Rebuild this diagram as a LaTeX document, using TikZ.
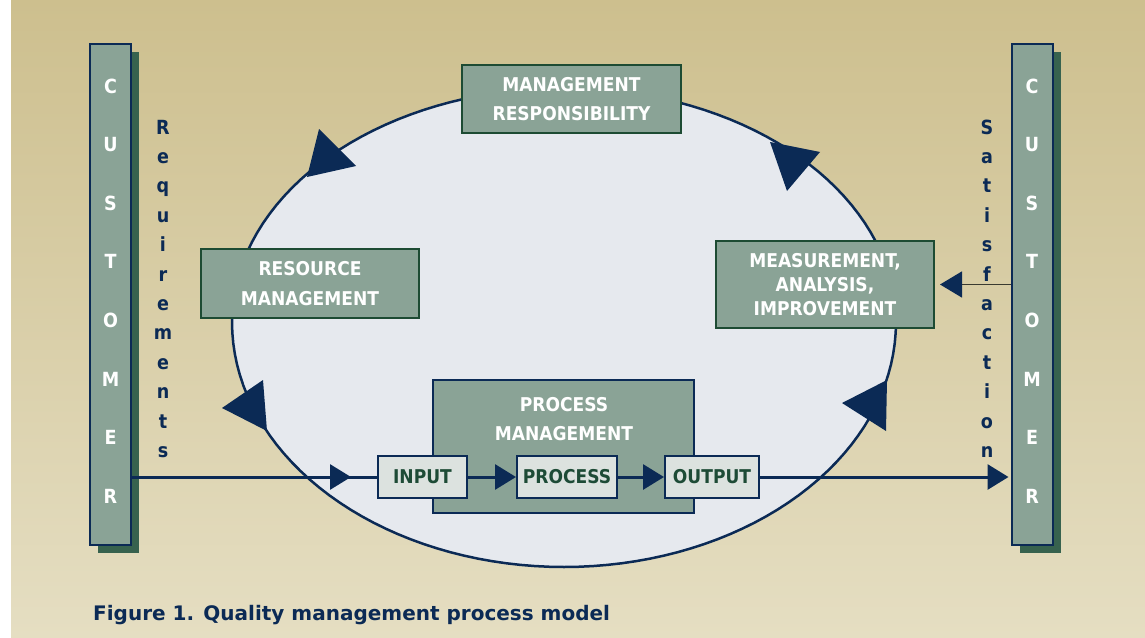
\documentclass[tikz,border=0pt]{standalone}
\usepackage{fontspec}
\setmainfont{DejaVu Sans Condensed}
\newfontfamily\captionface{DejaVu Sans}
\usetikzlibrary{arrows.meta,shadows}

\definecolor{bgtop}{HTML}{CDBF8E}
\definecolor{bgbot}{HTML}{E5DEC2}
\definecolor{navy}{HTML}{0B2A55}
\definecolor{sage}{HTML}{8AA396}
\definecolor{pine}{HTML}{37624E}
\definecolor{boxedge}{HTML}{1D4B33}
\definecolor{oval}{HTML}{E6E9EE}
\definecolor{pale}{HTML}{DCE2DF}
\definecolor{textgreen}{HTML}{1D4B36}
\definecolor{thinline}{HTML}{3A3A30}

\begin{document}
\begin{tikzpicture}[x=1pt,y=-1pt,
  custbar/.style={draw=navy, line width=2pt, fill=sage, minimum width=41pt,
    minimum height=501pt, inner sep=0pt,
    copy shadow={shadow xshift=8pt, shadow yshift=-8pt, fill=pine, draw=none}},
  custletter/.style={anchor=base, text=white, inner sep=0pt,
    font=\bfseries\fontsize{19.5}{24}\selectfont},
  sideletter/.style={anchor=base, text=navy, inner sep=0pt,
    font=\bfseries\fontsize{19.5}{24}\selectfont},
  mgmtbox/.style={draw=boxedge, line width=2pt, fill=sage, text=white,
    align=center, inner sep=0pt, font=\bfseries\fontsize{19}{29.5}\selectfont},
  stagebox/.style={draw=navy, line width=2pt, fill=pale, text=textgreen,
    minimum height=42pt, inner sep=0pt, font=\bfseries\fontsize{19}{24}\selectfont},
  flow/.style={draw=navy, line width=3pt},
  flowtip/.style={-{Triangle[length=21pt,width=25pt]}},
  cycletip/.style={fill=navy},
]
\useasboundingbox (0,0) rectangle (1145,637);

% backdrop
\fill[white] (0,0) rectangle (1145,637);
\shade[top color=bgtop, bottom color=bgbot] (11,0) rectangle (1145,637);

% central oval (slightly flatter on top)
\draw[navy, line width=2.5pt, fill=oval]
  plot[domain=0:360, samples=145, variable=\t]
  ({564+332*cos(\t)}, {322+((\t<180) ? 245 : 234)*sin(\t)}) -- cycle;

% direction markers on the oval
\fill[cycletip] (319,129) -- (356,166) -- (307,177) -- cycle;
\fill[cycletip] (770,142) -- (820,152) -- (787,191) -- cycle;
\fill[cycletip] (263,380) -- (222,408) -- (267,431) -- cycle;
\fill[cycletip] (887,380) -- (842,403) -- (886,431) -- cycle;

% customer bars
\node[custbar] (custL) at (110.5,294.5) {};
\node[custbar] (custR) at (1032,294.5) {};
\foreach \ch [count=\i] in {C,U,S,T,O,M,E,R} {
  \node[custletter] (cl\i) at (110.5,{93+58.6*(\i-1)}) {\ch};
  \node[custletter] (cr\i) at (1032,{93+58.6*(\i-1)}) {\ch};
}

% side captions
\foreach \ch [count=\i] in {R,e,q,u,i,r,e,m,e,n,t,s}
  \node[sideletter] (rq\i) at (163,{134+29.4*(\i-1)}) {\ch};
\foreach \ch [count=\i] in {S,a,t,i,s,f,a,c,t,i,o,n}
  \node[sideletter] (sf\i) at (987,{134+29.4*(\i-1)}) {\ch};

% management boxes
\node[mgmtbox, minimum width=219pt, minimum height=68pt] (resp) at (571.5,99)
  {MANAGEMENT\\RESPONSIBILITY};
\node[mgmtbox, minimum width=218pt, minimum height=69pt] (res) at (310,283.5)
  {RESOURCE\\MANAGEMENT};
\node[mgmtbox, minimum width=218pt, minimum height=87pt,
  font=\bfseries\fontsize{19}{24}\selectfont] (meas) at (825,284.5)
  {MEASUREMENT,\\ANALYSIS,\\IMPROVEMENT};

% process management block
\node[draw=navy, line width=2pt, fill=sage, minimum width=261pt,
  minimum height=133pt, inner sep=0pt] (pm) at (563.5,446.5) {};
\node[text=white, align=center, inner sep=0pt,
  font=\bfseries\fontsize{19}{29.5}\selectfont] (pmtitle) at (564,419)
  {PROCESS\\MANAGEMENT};

\node[stagebox, minimum width=89pt] (input) at (422.5,477) {INPUT};
\node[stagebox, minimum width=100pt] (process) at (567,477) {PROCESS};
\node[stagebox, minimum width=94pt] (output) at (712,477) {OUTPUT};

% main flow line
\coordinate (inarrow) at (351,477);
\draw[flow] (custL.east |- input.west) -- (input.west);
\draw[flow, flowtip] (custL.east |- input.west) -- (inarrow);
\draw[flow, flowtip] (input.east) -- (process.west);
\draw[flow, flowtip] (process.east) -- (output.west);
\draw[flow, flowtip, shorten >=2pt] (output.east) -- (custR.west |- output.east);

% satisfaction feedback
\draw[thinline, line width=1.5pt,
  -{Triangle[length=22pt,width=26pt,color=navy]}, shorten >=5pt]
  (custR.west |- meas.east) -- (meas.east);

% caption
\node[anchor=base west, text=navy, inner sep=0pt,
  font=\captionface\bfseries\fontsize{20}{24}\selectfont] (caption) at (93,620)
  {Figure 1. Quality management process model};
\end{tikzpicture}
\end{document}
